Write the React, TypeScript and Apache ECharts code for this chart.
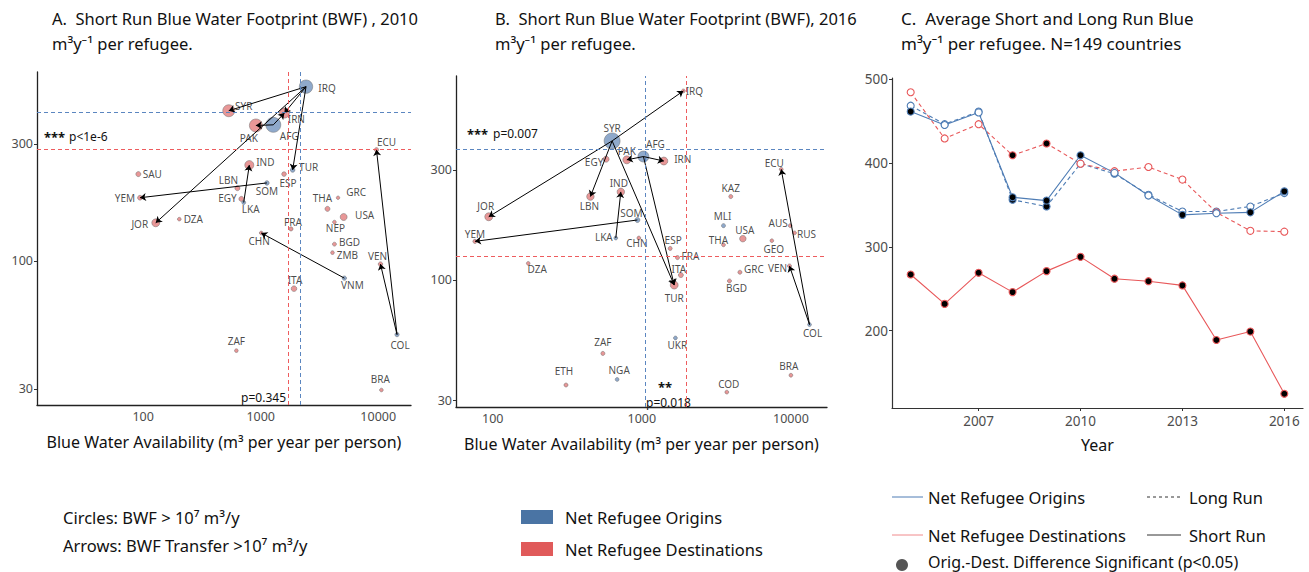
import React, { useEffect, useRef } from 'react';
import * as echarts from 'echarts';

const FONT = '"Noto Sans", "DejaVu Sans", sans-serif';
const BLUE = '#4f7db5';
const RED = '#e8585a';
const PT_BLUE = '#7393be';
const PT_RED = '#e27d7d';

// ---------- Panel A (2010) ----------
const codesA = ['IRQ','SYR','IRN','PAK','AFG','ECU','IND','TUR','SAU','ESP','SOM','LBN','GRC','YEM','EGY','LKA','THA','USA','DZA','NEP','JOR','FRA','CHN','BGD','ZMB','VEN','VNM','ITA','COL','ZAF','BRA'];
const waterA = [2430,535,1590,910,1280,9660,800,1870,91,1580,1130,634,4550,94,685,717,3700,5080,203,4240,128,1810,1010,4240,4080,10450,5150,1920,14450,621,10640];
const bwfPerRefA = [514,410,401,357,359,284,246,235,226,226,208,198,181,181,179,173,163,151,148,144,143,135,130,117,108,97,85,77,50,43,29.7];
const totalA = [48,36,22,44,64,0.8,16,1.2,1.8,1.2,1,1.8,0.1,1.5,1.8,0.4,1.8,7,0.2,0.2,11,0.6,0.2,0.4,0.2,1,0.8,3,0.8,0.2,0.2];
const originsA = ['IRQ','AFG','TUR','SOM','LKA','VNM','COL'];
const arrowsA = [['IRQ','SYR'],['IRQ','IRN'],['IRQ','JOR'],['IRQ','TUR'],['AFG','PAK'],['AFG','IRN'],['SOM','YEM'],['LKA','IND'],['VNM','CHN'],['COL','VEN'],['COL','ECU']];
const meanA = { originY: 405, destY: 286, originX: 2150, destX: 1730 };

// ---------- Panel B (2016) ----------
const codesB = ['IRQ','SYR','AFG','PAK','EGY','IRN','ECU','IND','KAZ','LBN','JOR','SOM','MLI','AUS','RUS','LKA','USA','CHN','YEM','GEO','THA','ESP','FRA','DZA','ITA','GRC','VEN','BGD','TUR','COL','UKR','ZAF','BRA','NGA','ETH','COD'];
const waterB = [1900,632,1025,793,576,1405,8610,723,3950,452,94,934,3530,9890,10570,669,4760,955,76,7450,3530,1549,1734,173,1828,4550,9780,3870,1649,13330,1680,548,10000,683,310,3715];
const bwfPerRefB = [661,401,343,332,334,328,302,241,230,230,188,182,172,172,160,152,151,152,147,148,142,137,125,118,105,108,115,99,95,64,56,48,38.6,37,35,32.6];
const totalB = [0.3,75,28,11,4,11,0.3,9,0.5,9,11,1.8,0.5,0.3,0.3,0.3,5.4,0.3,0.6,0.2,0.3,0.5,0.5,0.2,1.8,0.5,0.5,0.5,11,0.3,0.3,0.5,0.3,0.3,0.5,0.3];
const originsB = ['SYR','AFG','SOM','MLI','LKA','COL','UKR','NGA'];
const arrowsB = [['SYR','IRQ'],['SYR','JOR'],['SYR','LBN'],['SYR','TUR'],['AFG','TUR'],['AFG','PAK'],['AFG','IRN'],['LKA','IND'],['SOM','YEM'],['COL','ECU'],['COL','VEN']];
const meanB = { originY: 369, destY: 127, originX: 1052, destX: 1983 };

// ---------- Panel C ----------
const years = [2005,2006,2007,2008,2009,2010,2011,2012,2013,2014,2015,2016];
const originShort = [461,445,460,359,355,409,388,361,338,340,341,366];
const originLong = [468,446,461,356,348,399,387,362,342,342,348,364];
const destShort = [267,232,269,246,271,288,262,259,254,189,199,125];
const destLong = [484,429,446,409,423,399,390,395,380,341,319,318];
const sigOriginShort = [1,0,0,1,1,1,0,0,1,0,1,1];
const sigOriginLong = [0,0,0,1,1,0,0,0,0,0,0,0];
const sigDestShort = [1,1,1,1,1,1,1,1,1,1,1,1];
const sigDestLong = [0,0,0,1,1,0,0,0,0,0,0,0];

// label offsets (style only)
const labelOffA: Record<string, number[]> = {
  IRQ:[21,1],SYR:[15,-5],IRN:[12,6],PAK:[-7,13],AFG:[16,11],ECU:[10,-8],IND:[16,-3],TUR:[16,-3],SAU:[14,0],ESP:[4,9],
  SOM:[0,8],LBN:[-9,-8],GRC:[18,-6],YEM:[-15,0],EGY:[-14,-1],LKA:[7,6],THA:[-5,-11],USA:[21,-2],DZA:[14,0],NEP:[1,6],
  JOR:[-16,1],FRA:[2,-7],CHN:[-2,8],BGD:[15,-2],ZMB:[15,2],VEN:[-3,-8],VNM:[8,7],ITA:[1,-9],COL:[3,10],ZAF:[0,-10],BRA:[-1,-11]
};
const labelOffB: Record<string, number[]> = {
  IRQ:[11,0],SYR:[0,-13],AFG:[12,-13],PAK:[0,-9],EGY:[-12,3],IRN:[19,-2],ECU:[-7,-6],IND:[-2,-9],KAZ:[0,-9],LBN:[-1,9],
  JOR:[-3,-11],SOM:[-6,-7],MLI:[-1,-10],AUS:[-12,-3],RUS:[12,1],LKA:[-12,-1],USA:[2,-9],CHN:[-2,5],YEM:[0,-7],GEO:[2,8],
  THA:[-5,-5],ESP:[3,-8],FRA:[13,-2],DZA:[9,6],ITA:[-2,-6],GRC:[14,-3],VEN:[-12,2],BGD:[7,7],TUR:[0,13],COL:[3,8],
  UKR:[2,7],ZAF:[0,-11],BRA:[-2,-9],NGA:[2,-9],ETH:[-2,-14],COD:[2,-8]
};

const sizeOf = (t: number) => 3 + 1.5 * Math.sqrt(t);
const fmt = (v: number) => String(Math.round(v));

function scatterPanel(idx: number, codes: string[], xs: number[], ys: number[], tot: number[], origins: string[], offs: Record<string, number[]>) {
  return {
    type: 'scatter', xAxisIndex: idx, yAxisIndex: idx, z: 3,
    data: codes.map((c, i) => ({
      name: c, value: [xs[i], ys[i]], symbolSize: sizeOf(tot[i]),
      itemStyle: { color: origins.includes(c) ? PT_BLUE : PT_RED, borderColor: '#6a6a6a', borderWidth: 0.6 },
      label: { offset: offs[c] || [0, 0] },
    })),
    label: { show: true, position: 'inside', formatter: '{b}', fontSize: 10, lineHeight: 11, color: '#1a1a1a', fontFamily: FONT },
    emphasis: { disabled: true },
  };
}
function arrowPanel(idx: number, codes: string[], xs: number[], ys: number[], arrows: string[][]) {
  return {
    type: 'lines', coordinateSystem: 'cartesian2d', xAxisIndex: idx, yAxisIndex: idx, z: 4,
    symbol: ['none', 'arrow'], symbolSize: 6,
    lineStyle: { color: '#000', width: 1, opacity: 1, curveness: 0 },
    data: arrows.map(([f, t]) => {
      const a = codes.indexOf(f), b = codes.indexOf(t);
      return { coords: [[xs[a], ys[a]], [xs[b], ys[b]]] };
    }),
  };
}
function meanPanel(idx: number, m: any) {
  return {
    type: 'scatter', xAxisIndex: idx, yAxisIndex: idx, data: [], z: 1,
    markLine: {
      silent: true, symbol: 'none', label: { show: false },
      lineStyle: { type: [4, 3], width: 1 },
      data: [
        { yAxis: m.originY, lineStyle: { color: '#5b86c0', type: [4, 3], width: 1 } },
        { yAxis: m.destY, lineStyle: { color: '#ee5c5e', type: [4, 3], width: 1 } },
        { xAxis: m.originX, lineStyle: { color: '#5b86c0', type: [4, 3], width: 1 } },
        { xAxis: m.destX, lineStyle: { color: '#ee5c5e', type: [4, 3], width: 1 } },
      ],
    },
  };
}
function lineSeries(vals: number[], sig: number[], color: string, dashed: boolean) {
  return {
    type: 'line', xAxisIndex: 2, yAxisIndex: 2, symbol: 'circle', symbolSize: 7, showAllSymbol: true,
    lineStyle: { color, width: 1.1, type: dashed ? [4, 3] : 'solid' },
    data: years.map((y, i) => ({
      value: [y, vals[i]],
      itemStyle: { color: sig[i] ? '#000' : '#fff', borderColor: color, borderWidth: 1.1 },
    })),
    emphasis: { disabled: true }, z: 3,
  };
}

const axisLab = { color: '#4d4d4d', fontSize: 12.5, fontFamily: FONT, formatter: fmt };
const axisNameStyle = { fontSize: 16, color: '#111', fontFamily: FONT };

function logX(idx: number, min: number, max: number) {
  return {
    type: 'log', gridIndex: idx, min, max, logBase: 10,
    axisLine: { show: true, onZero: false, lineStyle: { color: '#222', width: 1.3 } },
    axisTick: { show: false }, splitLine: { show: false }, minorTick: { show: false },
    axisLabel: { ...axisLab, customValues: [100, 1000, 10000], margin: 5 },
    name: 'Blue Water Availability (m³ per year per person)', nameLocation: 'middle', nameGap: 29,
    nameTextStyle: axisNameStyle,
  };
}
function logY(idx: number, min: number, max: number) {
  return {
    type: 'log', gridIndex: idx, min, max, logBase: 10,
    axisLine: { show: true, onZero: false, lineStyle: { color: '#222', width: 1.3 } },
    axisTick: { show: true, customValues: [30, 100, 300], length: 3, lineStyle: { color: '#333' } },
    splitLine: { show: false }, minorTick: { show: false },
    axisLabel: { ...axisLab, customValues: [30, 100, 300], margin: 4 },
  };
}

const txt = (x: number, y: number, text: string, size = 16, extra: any = {}) => ({
  type: 'text', x, y, silent: true,
  style: { text, fontSize: size, fontFamily: FONT, fill: '#111', verticalAlign: 'middle', align: 'left', ...extra },
});

export default function App() {
  const ref = useRef<HTMLDivElement>(null);
  useEffect(() => {
    if (!ref.current) return;
    const chart = echarts.init(ref.current, null, { renderer: 'svg' });
    const option: any = {
      animation: false,
      textStyle: { fontFamily: FONT },
      grid: [
        { left: 37, top: 72, width: 374, height: 333 },
        { left: 456, top: 76, width: 371, height: 331 },
        { left: 892, top: 78, width: 411, height: 330 },
      ],
      xAxis: [
        logX(0, 12.5, 19000),
        logX(1, 56.7, 17460),
        {
          type: 'value', gridIndex: 2, min: 2004.45, max: 2016.55,
          axisLine: { show: true, onZero: false, lineStyle: { color: '#333', width: 1.2 } },
          axisTick: { show: true, customValues: [2007, 2010, 2013, 2016], length: 3 },
          axisLabel: { color: '#4d4d4d', fontSize: 13.5, fontFamily: FONT, customValues: [2007, 2010, 2013, 2016], formatter: fmt, margin: 6 },
          splitLine: { show: false },
          name: 'Year', nameLocation: 'middle', nameGap: 29, nameTextStyle: axisNameStyle,
        },
      ],
      yAxis: [
        logY(0, 25.8, 590),
        logY(1, 28.1, 767),
        {
          type: 'value', gridIndex: 2, min: 108, max: 501,
          axisLine: { show: true, onZero: false, lineStyle: { color: '#333', width: 1.2 } },
          axisTick: { show: true, customValues: [200, 300, 400, 500], length: 3 },
          axisLabel: { color: '#4d4d4d', fontSize: 13.5, fontFamily: FONT, customValues: [200, 300, 400, 500], formatter: fmt, margin: 4 },
          splitLine: { show: false },
        },
      ],
      series: [
        meanPanel(0, meanA),
        scatterPanel(0, codesA, waterA, bwfPerRefA, totalA, originsA, labelOffA),
        arrowPanel(0, codesA, waterA, bwfPerRefA, arrowsA),
        meanPanel(1, meanB),
        scatterPanel(1, codesB, waterB, bwfPerRefB, totalB, originsB, labelOffB),
        arrowPanel(1, codesB, waterB, bwfPerRefB, arrowsB),
        lineSeries(originLong, sigOriginLong, BLUE, true),
        lineSeries(destLong, sigDestLong, RED, true),
        lineSeries(originShort, sigOriginShort, BLUE, false),
        lineSeries(destShort, sigDestShort, RED, false),
      ],
      graphic: [
        txt(52, 18, 'A.  Short Run Blue Water Footprint (BWF) , 2010', 16.5),
        txt(52, 43, 'm³y⁻¹ per refugee.', 16.5),
        txt(495, 18, 'B.  Short Run Blue Water Footprint (BWF), 2016', 16.5),
        txt(495, 43, 'm³y⁻¹ per refugee.', 16.5),
        txt(901, 18, 'C.  Average Short and Long Run Blue', 17),
        txt(901, 43, 'm³y⁻¹ per refugee. N=149 countries', 17),
        txt(44, 137, '***', 13, { fontWeight: 'bold' }),
        txt(69, 136, 'p<1e-6', 12),
        txt(286, 397, 'p=0.345', 12, { align: 'right' }),
        txt(467, 134, '***', 13, { fontWeight: 'bold' }),
        txt(493, 133, 'p=0.007', 12),
        txt(665, 387, '**', 13, { fontWeight: 'bold', align: 'center' }),
        txt(646, 402, 'p=0.018', 12),
        txt(63, 517, 'Circles: BWF > 10⁷ m³/y', 16.5),
        txt(63, 545, 'Arrows: BWF Transfer >10⁷ m³/y', 16.5),
        { type: 'rect', shape: { x: 521, y: 510, width: 32, height: 14 }, style: { fill: '#4a74a4' }, silent: true },
        txt(565, 517, 'Net Refugee Origins', 16.5),
        { type: 'rect', shape: { x: 521, y: 542, width: 32, height: 14 }, style: { fill: '#e05a5a' }, silent: true },
        txt(565, 549, 'Net Refugee Destinations', 16.5),
        { type: 'line', shape: { x1: 892, y1: 497, x2: 923, y2: 497 }, style: { stroke: BLUE, lineWidth: 1 }, silent: true },
        txt(928, 497, 'Net Refugee Origins', 16.5),
        { type: 'line', shape: { x1: 1147, y1: 497, x2: 1181, y2: 497 }, style: { stroke: '#333', lineWidth: 1, lineDash: [3, 3] }, silent: true },
        txt(1189, 497, 'Long Run', 16.5),
        { type: 'line', shape: { x1: 892, y1: 535, x2: 923, y2: 535 }, style: { stroke: '#f08a8c', lineWidth: 1 }, silent: true },
        txt(928, 535, 'Net Refugee Destinations', 16.5),
        { type: 'line', shape: { x1: 1147, y1: 535, x2: 1181, y2: 535 }, style: { stroke: '#333', lineWidth: 1 }, silent: true },
        txt(1189, 535, 'Short Run', 16.5),
        { type: 'circle', shape: { cx: 902, cy: 565, r: 6 }, style: { fill: '#555' }, silent: true },
        txt(928, 562, 'Orig.-Dest. Difference Significant (p<0.05)', 16),
      ],
    };
    chart.setOption(option);
    return () => chart.dispose();
  }, []);
  return <div ref={ref} style={{ position: 'absolute', left: 0, top: 0, width: 1309, height: 572, background: '#fff' }} />;
}
